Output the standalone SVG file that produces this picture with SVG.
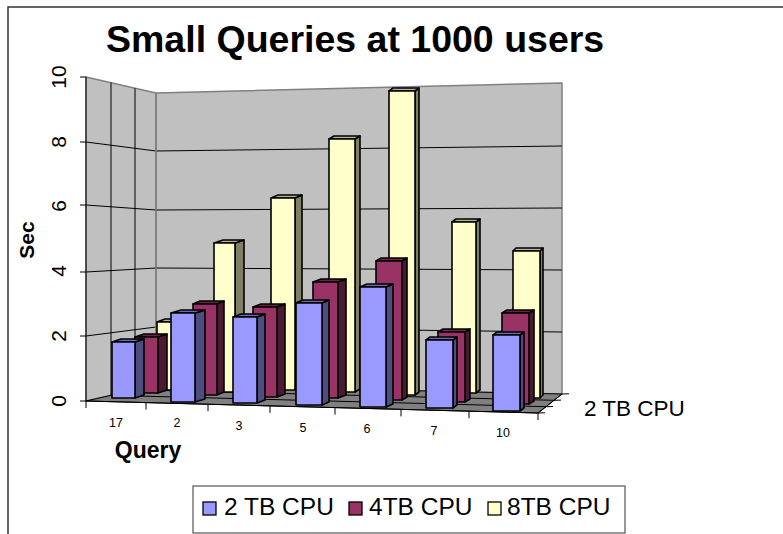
<svg xmlns="http://www.w3.org/2000/svg" width="783" height="534" viewBox="0 0 783 534">
  <style>
    text { font-family: "Liberation Sans", Arial, sans-serif; fill: #000; }
    .title { font-size: 37.5px; font-weight: bold; }
    .val { font-size: 21px; text-anchor: middle; }
    .cat { font-size: 12.5px; text-anchor: middle; }
    .axt { font-size: 21px; font-weight: bold; }
    .qry { font-size: 23px; font-weight: bold; }
    .leg { font-size: 24.5px; }
    .ser { font-size: 22.5px; }
    .frame { stroke: #333; stroke-width: 1.5; fill: none; }
    .wall { fill: #c0c0c0; stroke: #808080; stroke-width: 1.5; stroke-linejoin: round; }
    .grid { stroke: #000; stroke-width: 1; fill: none; }
    .floor { fill: #808080; stroke: #000; stroke-width: 1; }
    .tick { stroke: #000; stroke-width: 1; fill: none; }
    .bar rect, .bar path { stroke: #000; stroke-width: 1.6; stroke-linejoin: round; }
    .s1 .f { fill: #9999ff; } .s1 .sd { fill: #4d4d80; } .s1 .tp { fill: #6b6bb3; }
    .s2 .f { fill: #993366; } .s2 .sd { fill: #4c1933; } .s2 .tp { fill: #6b2447; }
    .s3 .f { fill: #ffffcc; } .s3 .sd { fill: #7f7f66; } .s3 .tp { fill: #b3b38f; }
    .sw { stroke: #000; stroke-width: 1.3; }
  </style>

  <!-- outer frame (top and left edges) -->
  <path class="frame" d="M8,534 L8,7 L783,7"/>

  <!-- title -->
  <text class="title" x="106" y="52">Small Queries at 1000 users</text>

  <!-- walls -->
  <g id="walls">
    <polygon class="wall" points="86,77 156,93 156,385 86,401"/>
    <polygon class="wall" points="156,93 562,83 562,394 156,385"/>
  </g>

  <!-- gridlines -->
  <g id="gridlines">
    <!-- side wall value gridlines -->
    <line class="grid" x1="86" y1="142" x2="156" y2="151"/>
    <line class="grid" x1="86" y1="205" x2="156" y2="210"/>
    <line class="grid" x1="86" y1="272" x2="156" y2="268"/>
    <line class="grid" x1="86" y1="336" x2="156" y2="327"/>
    <!-- side wall depth gridlines -->
    <line class="grid" x1="111" y1="82.7" x2="111" y2="395.3"/>
    <line class="grid" x1="135" y1="88.2" x2="135" y2="389.8"/>
    <!-- back wall value gridlines -->
    <line class="grid" x1="156" y1="151" x2="562" y2="146"/>
    <line class="grid" x1="156" y1="210" x2="562" y2="208"/>
    <line class="grid" x1="156" y1="268" x2="562" y2="270"/>
    <line class="grid" x1="156" y1="327" x2="562" y2="332"/>
    <!-- corner edge -->
    <line x1="156" y1="93" x2="156" y2="385" stroke="#808080" stroke-width="1.5"/>
  </g>

  <!-- floor -->
  <g id="floor">
    <polygon class="floor" points="86,401 156,385 562,394 538,413"/>
    <line class="grid" x1="111" y1="395.3" x2="546" y2="406.7"/>
    <line class="grid" x1="135" y1="389.8" x2="554" y2="400.3"/>
  </g>

  <!-- axes -->
  <g id="value-axis">
    <line class="tick" x1="86" y1="77" x2="86" y2="401"/>
    <line class="tick" x1="80" y1="77" x2="86" y2="77"/>
    <line class="tick" x1="80" y1="142" x2="86" y2="142"/>
    <line class="tick" x1="80" y1="205" x2="86" y2="205"/>
    <line class="tick" x1="80" y1="272" x2="86" y2="272"/>
    <line class="tick" x1="80" y1="336" x2="86" y2="336"/>
    <line class="tick" x1="80" y1="401" x2="86" y2="401"/>
    <text class="val" transform="translate(66,77) rotate(-90)">10</text>
    <text class="val" transform="translate(66,142) rotate(-90)">8</text>
    <text class="val" transform="translate(66,206) rotate(-90)">6</text>
    <text class="val" transform="translate(66,271) rotate(-90)">4</text>
    <text class="val" transform="translate(66,336) rotate(-90)">2</text>
    <text class="val" transform="translate(66,401) rotate(-90)">0</text>
    <text class="axt" transform="translate(34,240) rotate(-90)" text-anchor="middle">Sec</text>
  </g>

  <g id="category-axis">
    <line class="tick" x1="86" y1="401" x2="538" y2="413"/>
    <line class="tick" x1="86" y1="401" x2="86" y2="408"/>
    <line class="tick" x1="146" y1="402.6" x2="146" y2="409.6"/>
    <line class="tick" x1="208" y1="404.2" x2="208" y2="411.2"/>
    <line class="tick" x1="270" y1="405.9" x2="270" y2="412.9"/>
    <line class="tick" x1="335" y1="407.6" x2="335" y2="414.6"/>
    <line class="tick" x1="401" y1="409.4" x2="401" y2="416.4"/>
    <line class="tick" x1="469" y1="411.2" x2="469" y2="418.2"/>
    <line class="tick" x1="538" y1="413" x2="538" y2="420"/>
    <text class="cat" x="116" y="427">17</text>
    <text class="cat" x="177" y="427">2</text>
    <text class="cat" x="239" y="430">3</text>
    <text class="cat" x="303" y="432">5</text>
    <text class="cat" x="367" y="433">6</text>
    <text class="cat" x="434" y="435">7</text>
    <text class="cat" x="503" y="437">10</text>
    <text class="qry" x="148" y="458" text-anchor="middle">Query</text>
  </g>

  <g id="series-axis">
    <line class="tick" x1="538" y1="413" x2="562" y2="394"/>
    <line class="tick" x1="538" y1="413" x2="545" y2="412.8"/>
    <line class="tick" x1="546" y1="406.7" x2="553" y2="406.5"/>
    <line class="tick" x1="554" y1="400.3" x2="561" y2="400.1"/>
    <line class="tick" x1="562" y1="394" x2="569" y2="393.8"/>
    <text class="ser" x="584" y="416">2 TB CPU</text>
  </g>

  <!-- back row: 8TB CPU -->
  <g id="series-8tb" class="s3">
    <g id="bar-8tb-17" class="bar"><path class="sd" d="M179,322 L187,319 L187,387 L179,390Z"/><path class="tp" d="M157,322 L179,322 L187,319 L165,319Z"/><rect class="f" x="157" y="322" width="22" height="68"/></g>
    <g id="bar-8tb-2" class="bar"><path class="sd" d="M235,243 L244,240 L244,389 L235,392Z"/><path class="tp" d="M214,243 L235,243 L244,240 L223,240Z"/><rect class="f" x="214" y="243" width="21" height="149"/></g>
    <g id="bar-8tb-3" class="bar"><path class="sd" d="M295,198 L302,195 L302,387 L295,390Z"/><path class="tp" d="M271,198 L295,198 L302,195 L278,195Z"/><rect class="f" x="271" y="198" width="24" height="192"/></g>
    <g id="bar-8tb-5" class="bar"><path class="sd" d="M355,139 L360,136 L360,389 L355,392Z"/><path class="tp" d="M329,139 L355,139 L360,136 L334,136Z"/><rect class="f" x="329" y="139" width="26" height="253"/></g>
    <g id="bar-8tb-6" class="bar"><path class="sd" d="M415,91 L419,88 L419,392 L415,395Z"/><path class="tp" d="M389,91 L415,91 L419,88 L393,88Z"/><rect class="f" x="389" y="91" width="26" height="304"/></g>
    <g id="bar-8tb-7" class="bar"><path class="sd" d="M476,222 L480,219 L480,390 L476,393Z"/><path class="tp" d="M452,222 L476,222 L480,219 L456,219Z"/><rect class="f" x="452" y="222" width="24" height="171"/></g>
    <g id="bar-8tb-10" class="bar"><path class="sd" d="M540,251 L543,248 L543,395 L540,398Z"/><path class="tp" d="M513,251 L540,251 L543,248 L516,248Z"/><rect class="f" x="513" y="251" width="27" height="147"/></g>
  </g>

  <!-- middle row: 4TB CPU -->
  <g id="series-4tb" class="s2">
    <g id="bar-4tb-17" class="bar"><path class="sd" d="M158,337 L167,334 L167,390 L158,393Z"/><path class="tp" d="M135,337 L158,337 L167,334 L144,334Z"/><rect class="f" x="135" y="337" width="23" height="56"/></g>
    <g id="bar-4tb-2" class="bar"><path class="sd" d="M217,304 L224,301 L224,392 L217,395Z"/><path class="tp" d="M193,304 L217,304 L224,301 L200,301Z"/><rect class="f" x="193" y="304" width="24" height="91"/></g>
    <g id="bar-4tb-3" class="bar"><path class="sd" d="M277,307 L285,304 L285,394 L277,397Z"/><path class="tp" d="M253,307 L277,307 L285,304 L261,304Z"/><rect class="f" x="253" y="307" width="24" height="90"/></g>
    <g id="bar-4tb-5" class="bar"><path class="sd" d="M338,282 L346,279 L346,395 L338,398Z"/><path class="tp" d="M313,282 L338,282 L346,279 L321,279Z"/><rect class="f" x="313" y="282" width="25" height="116"/></g>
    <g id="bar-4tb-6" class="bar"><path class="sd" d="M402,261 L407,258 L407,397 L402,400Z"/><path class="tp" d="M376,261 L402,261 L407,258 L381,258Z"/><rect class="f" x="376" y="261" width="26" height="139"/></g>
    <g id="bar-4tb-7" class="bar"><path class="sd" d="M465,332 L470,329 L470,399 L465,402Z"/><path class="tp" d="M438,332 L465,332 L470,329 L443,329Z"/><rect class="f" x="438" y="332" width="27" height="70"/></g>
    <g id="bar-4tb-10" class="bar"><path class="sd" d="M529,313 L534,310 L534,401 L529,404Z"/><path class="tp" d="M502,313 L529,313 L534,310 L507,310Z"/><rect class="f" x="502" y="313" width="27" height="91"/></g>
  </g>

  <!-- front row: 2 TB CPU -->
  <g id="series-2tb" class="s1">
    <g id="bar-2tb-17" class="bar"><path class="sd" d="M135,342 L144,339 L144,395 L135,398Z"/><path class="tp" d="M112,342 L135,342 L144,339 L121,339Z"/><rect class="f" x="112" y="342" width="23" height="56"/></g>
    <g id="bar-2tb-2" class="bar"><path class="sd" d="M195,313 L205,310 L205,399 L195,402Z"/><path class="tp" d="M171,313 L195,313 L205,310 L181,310Z"/><rect class="f" x="171" y="313" width="24" height="89"/></g>
    <g id="bar-2tb-3" class="bar"><path class="sd" d="M257,317 L265,314 L265,400 L257,403Z"/><path class="tp" d="M233,317 L257,317 L265,314 L241,314Z"/><rect class="f" x="233" y="317" width="24" height="86"/></g>
    <g id="bar-2tb-5" class="bar"><path class="sd" d="M322,303 L329,300 L329,402 L322,405Z"/><path class="tp" d="M296,303 L322,303 L329,300 L303,300Z"/><rect class="f" x="296" y="303" width="26" height="102"/></g>
    <g id="bar-2tb-6" class="bar"><path class="sd" d="M386,287 L393,284 L393,404 L386,407Z"/><path class="tp" d="M360,287 L386,287 L393,284 L367,284Z"/><rect class="f" x="360" y="287" width="26" height="120"/></g>
    <g id="bar-2tb-7" class="bar"><path class="sd" d="M453,340 L457,337 L457,405 L453,408Z"/><path class="tp" d="M426,340 L453,340 L457,337 L430,337Z"/><rect class="f" x="426" y="340" width="27" height="68"/></g>
    <g id="bar-2tb-10" class="bar"><path class="sd" d="M520,335 L524,332 L524,408 L520,411Z"/><path class="tp" d="M493,335 L520,335 L524,332 L497,332Z"/><rect class="f" x="493" y="335" width="27" height="76"/></g>
  </g>

  <!-- legend -->
  <g id="legend">
    <rect x="193" y="486" width="432" height="47" fill="#fff" stroke="#333" stroke-width="1"/>
    <rect class="sw" x="203" y="502" width="13" height="13" fill="#9999ff"/>
    <text class="leg" x="224" y="515">2 TB CPU</text>
    <rect class="sw" x="349" y="502" width="13" height="13" fill="#993366"/>
    <text class="leg" x="369" y="515">4TB CPU</text>
    <rect class="sw" x="488" y="502" width="13" height="13" fill="#ffffcc"/>
    <text class="leg" x="507" y="515">8TB CPU</text>
  </g>
</svg>
